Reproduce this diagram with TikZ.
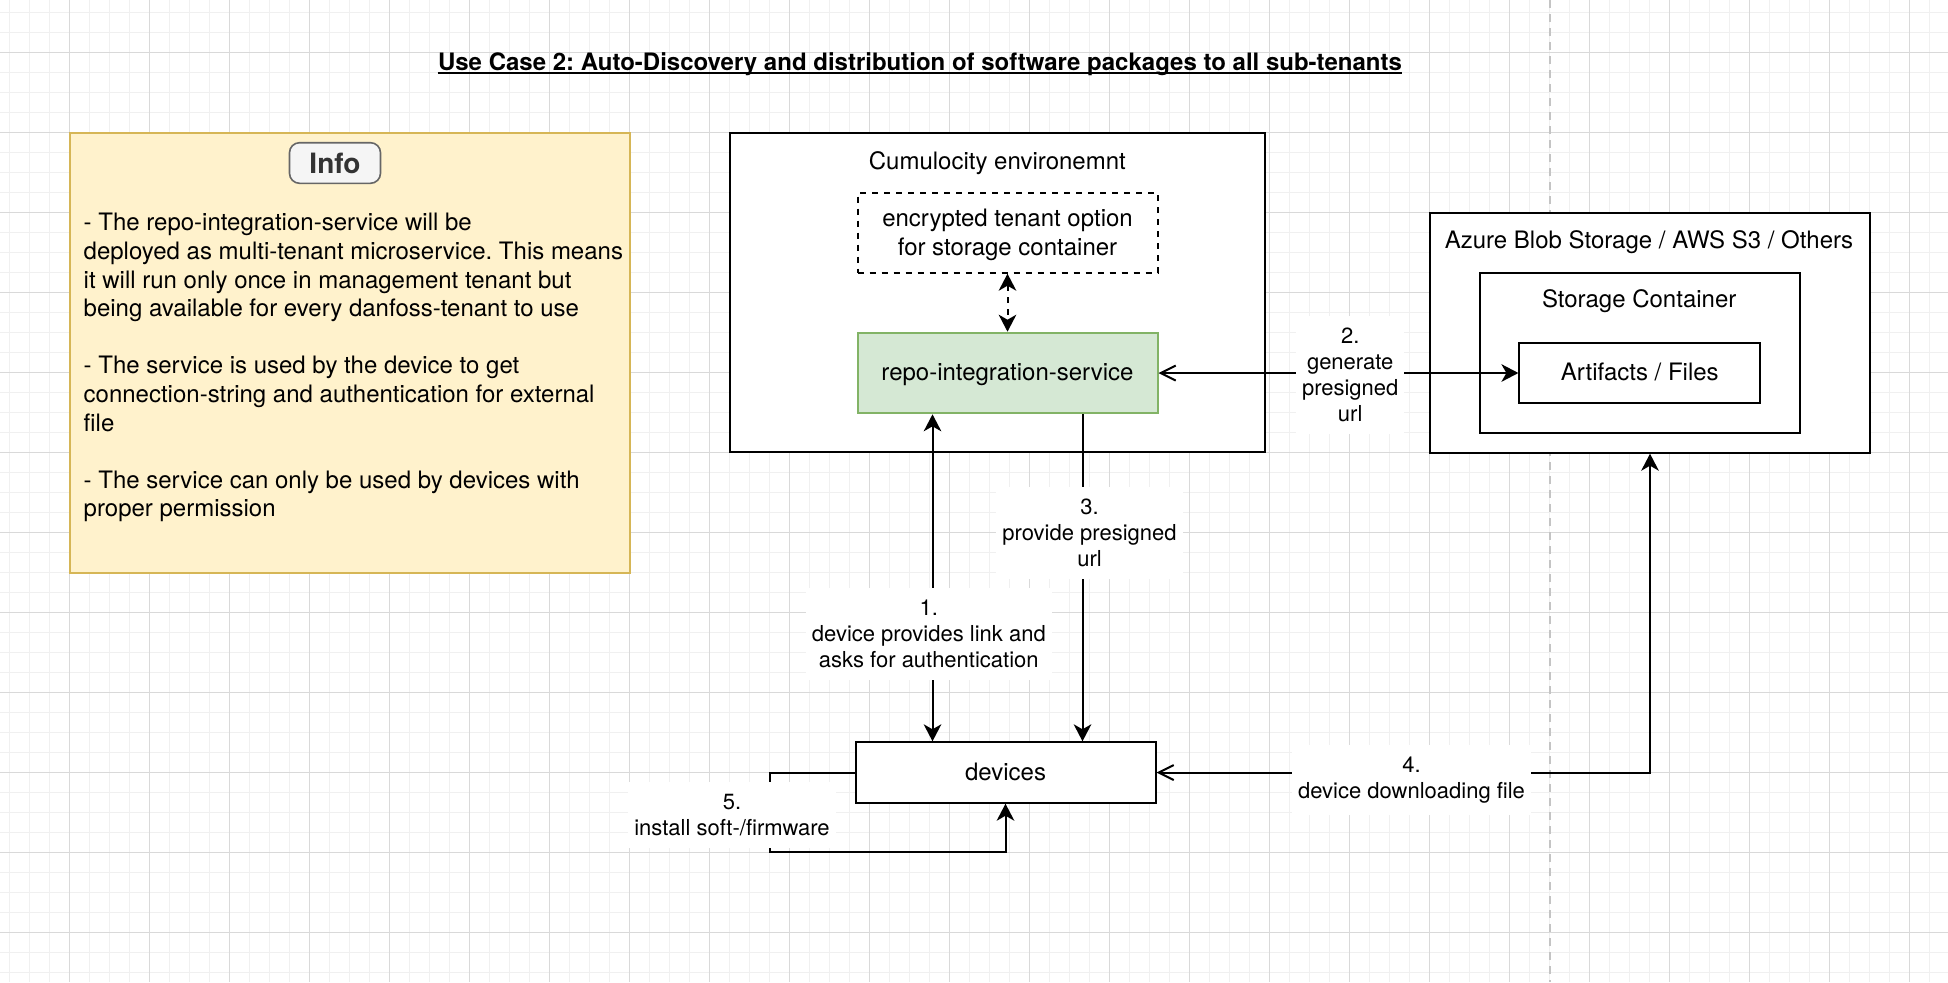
\documentclass[tikz,border=0pt]{standalone}
\usepackage{fontspec}
\setmainfont{TeX Gyre Heros}
\usetikzlibrary{arrows.meta}

\definecolor{notefill}{HTML}{FFF2CC}
\definecolor{notedraw}{HTML}{D6B656}
\definecolor{svcfill}{HTML}{D5E8D4}
\definecolor{svcdraw}{HTML}{82B366}
\definecolor{btnfill}{HTML}{F5F5F5}
\definecolor{btndraw}{HTML}{666666}
\definecolor{btntext}{HTML}{333333}
\definecolor{gridmin}{HTML}{F0F0F0}
\definecolor{gridmaj}{HTML}{D9D9D9}
\definecolor{pagebrk}{HTML}{C4C4C4}

\tikzset{opentip/.tip={Straight Barb[length=7.5pt,width=7.5pt,line width=1pt]}}
\frenchspacing

\begin{document}
\begin{tikzpicture}[x=0.5pt, y=-0.5pt,
        box/.style={draw, fill=white, line width=1pt, inner sep=0pt, align=center,
            text depth=0.6pt, font=\fontsize{12}{14.3}\selectfont},
        boxtitle/.style={inner sep=0pt, text depth=0.6pt, font=\fontsize{12}{14.3}\selectfont},
        lbl/.style={fill=white, align=center, inner xsep=3pt, inner ysep=6pt,
            font=\fontsize{11}{13}\selectfont},
        flow/.style={line width=1pt, >={Stealth[length=8.5pt,width=8.8pt,inset=2.5pt]}}]
    \useasboundingbox (0,0) rectangle (1948,982);
    \fill[white] (0,0) rectangle (1948,982);

    % background grid + page break
    \foreach \x in {9.5,29.5,...,1949.5}
        \draw[gridmin, line width=0.5pt] (\x,0) -- (\x,982);
    \foreach \y in {12.5,32.5,...,982}
        \draw[gridmin, line width=0.5pt] (0,\y) -- (1948,\y);
    \foreach \x in {69.5,149.5,...,1948}
        \draw[gridmaj, line width=0.5pt] (\x,0) -- (\x,982);
    \foreach \y in {52.5,132.5,...,982}
        \draw[gridmaj, line width=0.5pt] (0,\y) -- (1948,\y);
    \draw[pagebrk, line width=1pt, dash pattern=on 4pt off 3pt] (1550,0) -- (1550,982);

    % title
    \node[inner sep=0pt, font=\bfseries\fontsize{12}{14}\selectfont] (title) at (920,64.3)
        {Use Case 2: Auto-Discovery and distribution of software packages to all sub-tenants};
    \draw[line width=1pt] ([yshift=-1.4pt]title.base west) -- ([yshift=-1.4pt]title.base east);

    % info note
    \node[draw=notedraw, fill=notefill, line width=1pt, minimum width=280.25pt, minimum height=220pt]
        (info) at (349.75,353.3) {};
    \node[draw=btndraw, fill=btnfill, text=btntext, line width=0.8pt, rounded corners=5pt,
        minimum width=45.5pt, minimum height=20.3pt, inner sep=0pt,
        font=\bfseries\fontsize{14}{16}\selectfont] (infobtn) at (335,163) {Info};
    \node[boxtitle, align=left, anchor=north west] (infotxt) at (83.3,213) {%
        - The repo-integration-service will be\\
        deployed as multi-tenant microservice. This means\\
        it will run only once in management tenant but\\
        being available for every danfoss-tenant to use\\[14.3pt]
        - The service is used by the device to get\\
        connection-string and authentication for external\\
        file\\[14.3pt]
        - The service can only be used by devices with\\
        proper permission};

    % cumulocity side
    \node[box, minimum width=267.9pt, minimum height=159.5pt] (cumu) at (997.5,292.8) {};
    \node[boxtitle] (cumutitle) at (997.3,160.7) {Cumulocity environemnt};
    \node[box, dashed, dash pattern=on 3pt off 3pt, minimum width=150pt, minimum height=40pt]
        (enc) at (1007.5,232.7) {encrypted tenant option\\for storage container};
    \node[box, fill=svcfill, draw=svcdraw, minimum width=150pt, minimum height=40.3pt]
        (repo) at (1007.5,373) {repo-integration-service};

    % storage side
    \node[box, minimum width=220pt, minimum height=119.7pt] (azure) at (1650,333) {};
    \node[boxtitle] (azuretitle) at (1649,240) {Azure Blob Storage / AWS S3 / Others};
    \node[box, minimum width=160pt, minimum height=80pt] (store) at (1640,352.7) {};
    \node[boxtitle] (storetitle) at (1639.2,299.3) {Storage Container};
    \node[box, minimum width=120.4pt, minimum height=30pt] (files) at (1639.8,372.7) {Artifacts / Files};

    % devices
    \node[box, minimum width=150pt, minimum height=30.2pt] (devices) at (1005.5,772.5) {devices};
    \coordinate (loop5) at (770,852.3);

    % connectors
    \draw[flow, <->, dash pattern=on 3pt off 3pt] (enc) -- (repo);
    \draw[flow, <->] ([xshift=-37.5pt]repo.south) -- ([xshift=-37.5pt]repo.south |- devices.north);
    \draw[flow, ->] ([xshift=37.5pt]repo.south) -- ([xshift=37.5pt]repo.south |- devices.north);
    \draw[flow, opentip->] (repo.east) -- (repo.east -| files.west);
    \draw[flow, opentip->] (devices.east) -| (azure.south);
    \draw[flow, ->] (devices.west) -| (loop5) -| (devices.south);

    % step labels
    \node[lbl] (step1) at (928.8,633.7) {1.\\device provides link and\\asks for authentication};
    \node[lbl] (step2) at (1350.2,374.7) {2.\\generate\\presigned\\url};
    \node[lbl] (step3) at (1089.5,533) {3.\\provide presigned\\url};
    \node[lbl] (step4) at (1411.5,780) {4.\\device downloading file};
    \node[lbl] (step5) at (732,814.7) {5.\\install soft-/firmware};
\end{tikzpicture}
\end{document}
